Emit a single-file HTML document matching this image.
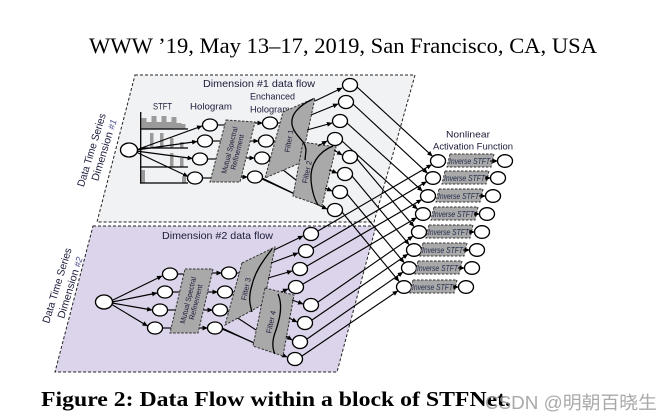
<!DOCTYPE html>
<html><head><meta charset="utf-8"><style>
html,body{margin:0;padding:0;background:#fff;}
svg{display:block;}
text{font-family:"Liberation Sans",sans-serif;}
</style></head><body>
<svg width="671" height="415" viewBox="0 0 671 415" xmlns="http://www.w3.org/2000/svg">
<defs>
<marker id="a" markerWidth="6" markerHeight="6" refX="5" refY="3" orient="auto" markerUnits="userSpaceOnUse"><path d="M0,0.6 L5.5,3 L0,5.4z" fill="#000"/></marker>
</defs>

<!-- header -->
<text x="89" y="53" font-size="22" textLength="508" lengthAdjust="spacingAndGlyphs" fill="#000" style="font-family:'Liberation Serif',serif">WWW ’19, May 13–17, 2019, San Francisco, CA, USA</text>

<!-- panels -->
<polygon points="135,75 415,75 374,222 97,222" fill="#f1f2f4" stroke="#222" stroke-width="1" stroke-dasharray="3,2"/>
<polygon points="93,226 376,226 337,372 55,372" fill="#dcd4ea" stroke="#222" stroke-width="1" stroke-dasharray="3,2"/>

<g fill="#1b1b3a" font-size="10.5">
<text x="203" y="87" textLength="112" lengthAdjust="spacingAndGlyphs">Dimension #1 data flow</text>
<text x="162" y="239" textLength="111" lengthAdjust="spacingAndGlyphs">Dimension #2 data flow</text>
</g>

<!-- rotated side labels -->
<g fill="#1b1b3a" font-size="10.5" text-anchor="middle">
<text transform="translate(91.5,150) rotate(-73)" dy="3.5" textLength="76" lengthAdjust="spacingAndGlyphs">Data Time Series</text>
<text transform="translate(104,150) rotate(-73)" dy="3.5" textLength="64" lengthAdjust="spacingAndGlyphs">Dimension <tspan font-style="italic" fill="#4a4a90" font-size="9">#1</tspan></text>
<text transform="translate(57,285.5) rotate(-73)" dy="3.5" textLength="78" lengthAdjust="spacingAndGlyphs">Data Time Series</text>
<text transform="translate(70,287.5) rotate(-73)" dy="3.5" textLength="64" lengthAdjust="spacingAndGlyphs">Dimension <tspan font-style="italic" fill="#4a4a90" font-size="9">#2</tspan></text>
</g>

<!-- top labels -->
<g fill="#1b1b3a" font-size="9.5">
<text x="153" y="109.5" textLength="19" lengthAdjust="spacingAndGlyphs">STFT</text>
<text x="190" y="109.5" textLength="42" lengthAdjust="spacingAndGlyphs">Hologram</text>
<text x="250" y="99.5" textLength="45" lengthAdjust="spacingAndGlyphs">Enchanced</text>
<text x="250" y="112.5" textLength="40" lengthAdjust="spacingAndGlyphs">Hologram</text>
<text x="468" y="137.5" text-anchor="middle" textLength="44" lengthAdjust="spacingAndGlyphs">Nonlinear</text>
<text x="433" y="149.5" textLength="80" lengthAdjust="spacingAndGlyphs">Activation Function</text>
</g>

<!-- spectrogram -->
<g fill="#9a9a9a">
<rect x="141.5" y="118" width="5" height="11"/><rect x="146.5" y="122" width="5" height="7"/><rect x="151.5" y="116" width="5" height="13"/><rect x="156.5" y="122" width="5" height="7"/><rect x="161.5" y="116" width="5" height="13"/><rect x="166.5" y="122" width="5" height="7"/><rect x="171.5" y="117" width="5" height="12"/><rect x="176.5" y="123" width="5" height="6"/><rect x="181.5" y="124" width="4" height="5"/>
<rect x="150" y="133" width="3.5" height="15"/><rect x="160" y="133" width="3.5" height="15"/><rect x="170" y="138" width="3.5" height="10"/><rect x="180" y="142" width="3.5" height="6"/>
<rect x="170" y="153" width="3.5" height="14"/><rect x="180" y="158" width="3.5" height="9"/>
<rect x="141.5" y="170" width="3.5" height="13"/><rect x="182" y="177" width="4" height="6"/>
</g>
<g stroke="#000" stroke-width="1.3" fill="none">
<line x1="140.7" y1="112" x2="140.7" y2="183.6"/>
<line x1="140" y1="129" x2="188" y2="129"/>
<line x1="140" y1="148" x2="188" y2="148"/>
<line x1="140" y1="167" x2="188" y2="167"/>
<line x1="140" y1="183" x2="188" y2="183"/>
</g>

<!-- ===== connecting lines (behind shapes) ===== -->
<g stroke="#000" stroke-width="1.15" fill="none">
<line x1="136" y1="150" x2="202" y2="126" marker-end="url(#a)"/>
<line x1="136" y1="150" x2="197" y2="141.5" marker-end="url(#a)"/>
<line x1="136" y1="151" x2="192.5" y2="158.5" marker-end="url(#a)"/>
<line x1="136" y1="152" x2="188" y2="176.5" marker-end="url(#a)"/>
<line x1="217.5" y1="125" x2="224.7" y2="125"/>
<line x1="212.5" y1="141" x2="220.6" y2="141"/>
<line x1="207.5" y1="159" x2="216" y2="159"/>
<line x1="202.5" y1="178" x2="211" y2="178"/>
<line x1="254.7" y1="123" x2="262.5" y2="123" marker-end="url(#a)"/>
<line x1="250" y1="141" x2="258.5" y2="141" marker-end="url(#a)"/>
<line x1="246" y1="158" x2="254.5" y2="158" marker-end="url(#a)"/>
<line x1="241" y1="177" x2="247.5" y2="177" marker-end="url(#a)"/>
<line x1="277" y1="123" x2="281" y2="123"/>
<line x1="273" y1="141" x2="277" y2="141"/>
<line x1="269" y1="159" x2="296" y2="180"/>
<line x1="262" y1="179" x2="327" y2="209" marker-end="url(#a)"/>
<line x1="262" y1="178" x2="293" y2="193"/>

<line x1="111" y1="301" x2="162" y2="276" marker-end="url(#a)"/>
<line x1="112" y1="302" x2="157" y2="293" marker-end="url(#a)"/>
<line x1="112" y1="303" x2="152" y2="310" marker-end="url(#a)"/>
<line x1="111" y1="304" x2="147.5" y2="326" marker-end="url(#a)"/>
<line x1="177.5" y1="274" x2="183.8" y2="274"/>
<line x1="172.5" y1="292" x2="179.6" y2="292"/>
<line x1="167.5" y1="310" x2="175.4" y2="310"/>
<line x1="162.5" y1="328" x2="171.2" y2="328"/>
<line x1="212" y1="273" x2="221.5" y2="273" marker-end="url(#a)"/>
<line x1="207.6" y1="292" x2="217.5" y2="292" marker-end="url(#a)"/>
<line x1="203.4" y1="310" x2="212.5" y2="310" marker-end="url(#a)"/>
<line x1="199.2" y1="328" x2="207.5" y2="328" marker-end="url(#a)"/>
<line x1="236" y1="273" x2="240" y2="273"/>
<line x1="232" y1="292" x2="235" y2="292"/>
<line x1="227" y1="311" x2="256" y2="330"/>
<line x1="222" y1="329" x2="287" y2="357" marker-end="url(#a)"/>
<line x1="222" y1="328" x2="254" y2="343"/>
</g>

<!-- ===== gray shapes ===== -->
<g fill="#a9a9a9" stroke="#333" stroke-width="1" stroke-dasharray="2.5,1.5">
<polygon points="226,120 255,122 240,182 210,182"/>
<polygon points="283,112 315,98 306,140 300,163 265,178"/>
<polygon points="303,142 336,147 322,206 293,196"/>
<polygon points="185,269 213,269 198,333 170,333"/>
<polygon points="242,263 275,247 267,287 262,305 225,325"/>
<polygon points="265,288 294,295 283,356 253,346"/>
</g>
<g stroke="#000" stroke-width="1.3" fill="none">
<path d="M313,99 C300,105 288,115 293,128 C297,138 305,140 306,150 L305,160"/>
<path d="M333,146 C318,152 310,165 311,180 C312,192 315,200 318,205"/>
<path d="M272,249 C262,262 255,272 252,285 C248,298 250,305 252,312"/>
<path d="M278,294 C283,305 280,318 276,330 C272,340 272,348 275,354"/>
</g>
<g fill="#1b1b3a" font-size="7.5" text-anchor="middle">
<text transform="translate(233,151) rotate(-76)" y="-1" textLength="48" lengthAdjust="spacingAndGlyphs">Mutual Spectral</text>
<text transform="translate(233,151) rotate(-76)" y="7" textLength="36" lengthAdjust="spacingAndGlyphs">Refinement</text>
<text transform="translate(191.5,301) rotate(-76)" y="-1" textLength="48" lengthAdjust="spacingAndGlyphs">Mutual Spectral</text>
<text transform="translate(191.5,301) rotate(-76)" y="7" textLength="36" lengthAdjust="spacingAndGlyphs">Refinement</text>
<text transform="translate(289,141) rotate(-80)" y="2.5">Filter 1</text>
<text transform="translate(307,172) rotate(-78)" y="2.5">Filter 2</text>
<text transform="translate(246,289) rotate(-78)" y="2.5">Filter 3</text>
<text transform="translate(271,322) rotate(-78)" y="2.5">Filter 4</text>
</g>

<!-- filter -> output arrows and cross connections -->
<g stroke="#000" stroke-width="1.15" fill="none">
<line x1="315" y1="101" x2="342" y2="88" marker-end="url(#a)"/>
<line x1="311" y1="115" x2="338" y2="104" marker-end="url(#a)"/>
<line x1="307" y1="130" x2="332" y2="123" marker-end="url(#a)"/>
<line x1="318" y1="146" x2="327" y2="141" marker-end="url(#a)"/>
<line x1="334" y1="150" x2="342" y2="155" marker-end="url(#a)"/>
<line x1="329" y1="170" x2="337" y2="173" marker-end="url(#a)"/>
<line x1="325" y1="188" x2="332" y2="191" marker-end="url(#a)"/>

<line x1="274" y1="250" x2="303" y2="236" marker-end="url(#a)"/>
<line x1="271" y1="263" x2="298" y2="253" marker-end="url(#a)"/>
<line x1="268" y1="278" x2="292" y2="271" marker-end="url(#a)"/>
<line x1="281" y1="292" x2="288" y2="289" marker-end="url(#a)"/>
<line x1="292" y1="300" x2="303" y2="304" marker-end="url(#a)"/>
<line x1="289" y1="318" x2="297" y2="322" marker-end="url(#a)"/>
<line x1="286" y1="336" x2="292" y2="340" marker-end="url(#a)"/>

<line x1="357" y1="87" x2="432.3" y2="156.1" marker-end="url(#a)"/>
<line x1="353" y1="104" x2="427.4" y2="173.1" marker-end="url(#a)"/>
<line x1="347" y1="123" x2="422.3" y2="191.1" marker-end="url(#a)"/>
<line x1="342" y1="141" x2="417.3" y2="209.1" marker-end="url(#a)"/>
<line x1="357" y1="159" x2="413.9" y2="226.5" marker-end="url(#a)"/>
<line x1="352" y1="176" x2="409" y2="244.5" marker-end="url(#a)"/>
<line x1="347" y1="194" x2="404" y2="262.5" marker-end="url(#a)"/>
<line x1="342" y1="212" x2="399" y2="281.4" marker-end="url(#a)"/>
<line x1="318" y1="231" x2="431.5" y2="164.7" marker-end="url(#a)"/>
<line x1="313" y1="248" x2="426.5" y2="181.7" marker-end="url(#a)"/>
<line x1="307" y1="266" x2="421.5" y2="199.7" marker-end="url(#a)"/>
<line x1="303" y1="284" x2="416.5" y2="217.7" marker-end="url(#a)"/>
<line x1="318" y1="302" x2="412.8" y2="236.2" marker-end="url(#a)"/>
<line x1="312" y1="320" x2="407.8" y2="254.2" marker-end="url(#a)"/>
<line x1="307" y1="339" x2="402.8" y2="272.2" marker-end="url(#a)"/>
<line x1="302" y1="356" x2="397.7" y2="290.9" marker-end="url(#a)"/>
</g>

<!-- ===== nodes ===== -->
<g fill="#fff" stroke="#000" stroke-width="1.35">
<ellipse cx="129" cy="150" rx="8.5" ry="7"/>
<ellipse cx="210" cy="125" rx="7.5" ry="6"/><ellipse cx="205" cy="141" rx="7.5" ry="6"/><ellipse cx="200" cy="159" rx="7.5" ry="6"/><ellipse cx="195" cy="178" rx="7.5" ry="6"/>
<ellipse cx="270" cy="123" rx="7.5" ry="6"/><ellipse cx="266" cy="141" rx="7.5" ry="6"/><ellipse cx="262" cy="158" rx="7.5" ry="6"/><ellipse cx="255" cy="177" rx="7.5" ry="6"/>
<ellipse cx="350" cy="85" rx="7.5" ry="6.5"/><ellipse cx="346" cy="102" rx="7.5" ry="6.5"/><ellipse cx="340" cy="121" rx="7.5" ry="6.5"/><ellipse cx="335" cy="139" rx="7.5" ry="6.5"/>
<ellipse cx="350" cy="157" rx="7.5" ry="6.5"/><ellipse cx="345" cy="174" rx="7.5" ry="6.5"/><ellipse cx="340" cy="192" rx="7.5" ry="6.5"/><ellipse cx="335" cy="210" rx="7.5" ry="6.5"/>

<ellipse cx="104" cy="302" rx="8.5" ry="7"/>
<ellipse cx="170" cy="274" rx="7.5" ry="6"/><ellipse cx="165" cy="292" rx="7.5" ry="6"/><ellipse cx="160" cy="310" rx="7.5" ry="6"/><ellipse cx="155" cy="328" rx="7.5" ry="6"/>
<ellipse cx="229" cy="273" rx="7.5" ry="6"/><ellipse cx="225" cy="292" rx="7.5" ry="6"/><ellipse cx="220" cy="310" rx="7.5" ry="6"/><ellipse cx="215" cy="328" rx="7.5" ry="6"/>
<ellipse cx="311" cy="234" rx="7.5" ry="6.5"/><ellipse cx="306" cy="251" rx="7.5" ry="6.5"/><ellipse cx="300" cy="269" rx="7.5" ry="6.5"/><ellipse cx="296" cy="287" rx="7.5" ry="6.5"/>
<ellipse cx="311" cy="305" rx="7.5" ry="6.5"/><ellipse cx="305" cy="323" rx="7.5" ry="6.5"/><ellipse cx="300" cy="342" rx="7.5" ry="6.5"/><ellipse cx="295" cy="359" rx="7.5" ry="6.5"/>

<ellipse cx="438" cy="161" rx="7.5" ry="6.3"/><ellipse cx="433" cy="178" rx="7.5" ry="6.3"/><ellipse cx="428" cy="196" rx="7.5" ry="6.3"/><ellipse cx="423" cy="214" rx="7.5" ry="6.3"/>
<ellipse cx="419" cy="232" rx="7.5" ry="6.3"/><ellipse cx="414" cy="250" rx="7.5" ry="6.3"/><ellipse cx="409" cy="268" rx="7.5" ry="6.3"/><ellipse cx="404" cy="287" rx="7.5" ry="6.3"/>

<ellipse cx="505" cy="161" rx="7.5" ry="6.3"/><ellipse cx="498" cy="178" rx="7.5" ry="6.3"/><ellipse cx="493" cy="196" rx="7.5" ry="6.3"/><ellipse cx="487" cy="214" rx="7.5" ry="6.3"/>
<ellipse cx="482" cy="232" rx="7.5" ry="6.3"/><ellipse cx="477" cy="250" rx="7.5" ry="6.3"/><ellipse cx="472" cy="268" rx="7.5" ry="6.3"/><ellipse cx="466" cy="287" rx="7.5" ry="6.3"/>
</g>

<!-- Inverse STFT boxes -->
<g fill="#a9a9a9" stroke="#333" stroke-width="1" stroke-dasharray="2.5,1.5">
<polygon points="450,154 494,154 491,167 447,167"/>
<polygon points="445,171 489,171 486,184 442,184"/>
<polygon points="439,189 483,189 480,202 436,202"/>
<polygon points="434,207 478,207 475,220 431,220"/>
<polygon points="429,225 473,225 470,238 426,238"/>
<polygon points="423,243 467,243 464,256 420,256"/>
<polygon points="418,261 462,261 459,274 415,274"/>
<polygon points="413,280 457,280 454,293 410,293"/>
</g>
<g fill="#1f2a4a" font-size="8" font-style="italic">
<text x="449" y="164" textLength="41" lengthAdjust="spacingAndGlyphs">Inverse STFT</text>
<text x="444" y="181" textLength="41" lengthAdjust="spacingAndGlyphs">Inverse STFT</text>
<text x="438" y="199" textLength="41" lengthAdjust="spacingAndGlyphs">Inverse STFT</text>
<text x="433" y="217" textLength="41" lengthAdjust="spacingAndGlyphs">Inverse STFT</text>
<text x="428" y="235" textLength="41" lengthAdjust="spacingAndGlyphs">Inverse STFT</text>
<text x="422" y="253" textLength="41" lengthAdjust="spacingAndGlyphs">Inverse STFT</text>
<text x="417" y="271" textLength="41" lengthAdjust="spacingAndGlyphs">Inverse STFT</text>
<text x="412" y="290" textLength="41" lengthAdjust="spacingAndGlyphs">Inverse STFT</text>
</g>
<g stroke="#000" stroke-width="1.1" fill="none">
<line x1="490" y1="161" x2="497.5" y2="161" marker-end="url(#a)"/>
<line x1="485" y1="178" x2="490.5" y2="178" marker-end="url(#a)"/>
<line x1="479" y1="196" x2="485.5" y2="196" marker-end="url(#a)"/>
<line x1="474" y1="214" x2="479.5" y2="214" marker-end="url(#a)"/>
<line x1="469" y1="232" x2="474.5" y2="232" marker-end="url(#a)"/>
<line x1="463" y1="250" x2="469.5" y2="250" marker-end="url(#a)"/>
<line x1="458" y1="268" x2="464.5" y2="268" marker-end="url(#a)"/>
<line x1="453" y1="287" x2="458.5" y2="287" marker-end="url(#a)"/>
</g>

<!-- caption -->
<text x="41" y="406" font-size="21" font-weight="bold" textLength="470" lengthAdjust="spacingAndGlyphs" fill="#000" style="font-family:'Liberation Serif',serif">Figure 2: Data Flow within a block of STFNet.</text>
<text x="485" y="409" font-size="18" textLength="172" lengthAdjust="spacingAndGlyphs" fill="#9a9a9a" fill-opacity="0.85" style="font-family:'Liberation Sans','Noto Sans CJK SC',sans-serif">CSDN @明朝百晓生</text>
</svg>
</body></html>
